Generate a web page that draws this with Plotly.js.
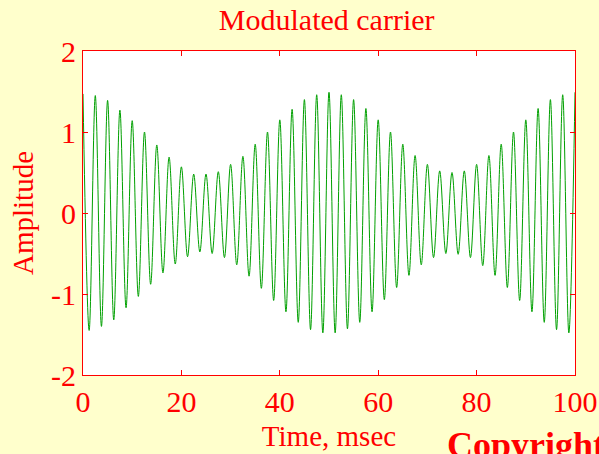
<!DOCTYPE html>
<html>
<head>
<meta charset="utf-8">
<script src="https://cdn.plot.ly/plotly-3.0.1.min.js"></script>
<style>
html,body{margin:0;padding:0;background:#FFFFCC;}
#chart{width:599px;height:454px;}
</style>
</head>
<body>
<div id="chart"></div>
<script>
// Time of each carrier peak / trough (msec)
const timeMs = [
  0, 1.25, 2.5, 3.75, 5, 6.25, 7.5, 8.75, 10, 11.25,
  12.5, 13.75, 15, 16.25, 17.5, 18.75, 20, 21.25, 22.5, 23.75,
  25, 26.25, 27.5, 28.75, 30, 31.25, 32.5, 33.75, 35, 36.25,
  37.5, 38.75, 40, 41.25, 42.5, 43.75, 45, 46.25, 47.5, 48.75,
  50, 51.25, 52.5, 53.75, 55, 56.25, 57.5, 58.75, 60, 61.25,
  62.5, 63.75, 65, 66.25, 67.5, 68.75, 70, 71.25, 72.5, 73.75,
  75, 76.25, 77.5, 78.75, 80, 81.25, 82.5, 83.75, 85, 86.25,
  87.5, 88.75, 90, 91.25, 92.5, 93.75, 95, 96.25, 97.5, 98.75,
  100
];
// Amplitude read at each peak / trough
const amplitude = [
  1.47, -1.45, 1.45, -1.40, 1.39, -1.32, 1.27, -1.17, 1.14, -1.03,
  1.00, -0.88, 0.84, -0.74, 0.69, -0.63, 0.57, -0.54, 0.48, -0.48,
  0.48, -0.50, 0.51, -0.55, 0.60, -0.64, 0.70, -0.78, 0.85, -0.93,
  1.00, -1.08, 1.15, -1.22, 1.28, -1.35, 1.40, -1.44, 1.46, -1.48,
  1.49, -1.48, 1.46, -1.43, 1.40, -1.35, 1.29, -1.22, 1.15, -1.07,
  1.00, -0.92, 0.85, -0.77, 0.71, -0.64, 0.60, -0.55, 0.52, -0.50,
  0.50, -0.51, 0.52, -0.55, 0.60, -0.65, 0.71, -0.77, 0.85, -0.92,
  1.00, -1.08, 1.15, -1.22, 1.29, -1.35, 1.40, -1.44, 1.46, -1.48,
  1.49
];
const xTickVals = [0, 20, 40, 60, 80, 100];
const xTickText = ["0", "20", "40", "60", "80", "100"];
const yTickVals = [-2, -1, 0, 1, 2];
const yTickText = ["-2", "-1", "0", "1", "2"];

const RED = "#FF0000";
const FONT = "Liberation Serif, Times New Roman, serif";

const trace = {
  x: timeMs,
  y: amplitude,
  type: "scatter",
  mode: "lines",
  line: {color: "rgb(0,160,0)", width: 1, shape: "spline", smoothing: 1},
  hoverinfo: "skip"
};

const axisCommon = {
  showgrid: false,
  zeroline: false,
  showline: true,
  linecolor: RED,
  linewidth: 1,
  mirror: "ticks",
  ticks: "inside",
  ticklen: 5,
  tickcolor: RED,
  tickfont: {family: FONT, size: 30, color: RED},
  tickmode: "array"
};

const layout = {
  width: 599,
  height: 454,
  paper_bgcolor: "#FFFFCC",
  plot_bgcolor: "#FFFFFF",
  margin: {l: 83, r: 24, t: 51, b: 79, pad: 0},
  showlegend: false,
  title: {
    text: "Modulated carrier",
    font: {family: FONT, size: 30, color: RED},
    xref: "container", x: 0.5454,
    yref: "container", y: 0.956, yanchor: "middle", xanchor: "center"
  },
  xaxis: Object.assign({}, axisCommon, {
    range: [0, 100],
    tickvals: xTickVals,
    ticktext: xTickText,
    title: {text: "Time, msec", font: {family: FONT, size: 29, color: RED}, standoff: 8}
  }),
  yaxis: Object.assign({}, axisCommon, {
    range: [-2, 2],
    tickvals: yTickVals,
    ticktext: yTickText,
    ticklabelstandoff: 0,
    title: {text: "Amplitude", font: {family: FONT, size: 29, color: RED}, standoff: 8}
  }),
  annotations: [{
    text: "<b>Copyright</b>",
    xref: "paper", yref: "paper",
    x: (445 - 83) / 492, y: -(467 - 375) / 324,
    xanchor: "left", yanchor: "bottom",
    showarrow: false,
    font: {family: FONT, size: 36, color: RED}
  }]
};

Plotly.newPlot("chart", [trace], layout, {displayModeBar: false, staticPlot: true});
</script>
</body>
</html>
